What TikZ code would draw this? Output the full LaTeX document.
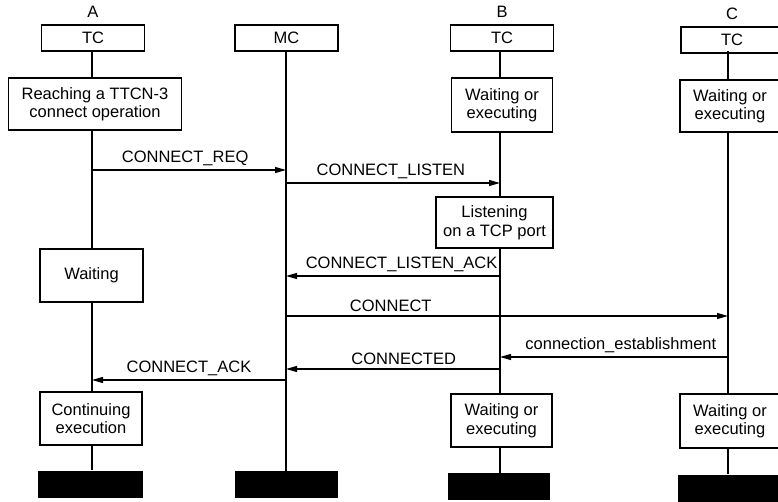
\documentclass[tikz,border=0pt]{standalone}
\usepackage{fontspec}
\setmainfont{Liberation Sans}
\usetikzlibrary{arrows.meta,backgrounds,positioning}

\tikzset{
    every node/.style={font=\fontsize{16.5}{18.5}\selectfont},
    hdr/.style={draw, line width=1.2pt, minimum width=103pt, minimum height=26pt, inner sep=0pt},
    act/.style={draw, fill=white, line width=1.2pt, align=center, inner sep=0pt},
    stop/.style={fill=black, inner sep=0pt, minimum height=27pt},
    msg/.style={line width=1.2pt, -{Triangle[length=11pt,width=6pt]}}
}

\begin{document}
\begin{tikzpicture}[x=1pt, y=-1pt]
                        \useasboundingbox (0,0) rectangle (778,502);

                        % instance heads
                        \node[hdr] (hA) at (93,38) {TC};
                        \node[hdr] (hM) at (286.5,38) {MC};
                        \node[hdr] (hB) at (502,38) {TC};
                        \node[hdr, minimum width=102pt] (hC) at (732,40) {TC};

                        \node[above=3pt of hA] (lA) {A};
                        \node[above=3pt of hB] (lB) {B};
                        \node[above=3pt of hC] (lC) {C};

                        % states
                        \node[act, minimum width=173pt, minimum height=52pt] (rA) at (95,104) {Reaching a TTCN-3\\connect operation};
                        \node[act, minimum width=101pt, minimum height=54pt] (b1) at (502,105) {Waiting or\\executing};
                        \node[act, minimum width=100pt, minimum height=52pt] (c1) at (730,106) {Waiting or\\executing};
                        \node[act, minimum width=117pt, minimum height=51pt] (lsB) at (494.5,222.5) {Listening\\on a TCP port};
                        \node[act, minimum width=103pt, minimum height=53pt] (wA) at (91.5,275.5) {Waiting};
                        \node[act, minimum width=102pt, minimum height=53pt] (cA) at (91,418.5) {Continuing\\execution};
                        \node[act, minimum width=101pt, minimum height=53pt] (b2) at (501.5,420.5) {Waiting or\\executing};
                        \node[act, minimum width=100pt, minimum height=54pt] (c2) at (730,421) {Waiting or\\executing};

                        % stop blocks
                        \node[stop, minimum width=105pt] (eA) at (90.5,484) {};
                        \node[stop, minimum width=103pt] (eM) at (286.5,484.5) {};
                        \node[stop, minimum width=102pt] (eB) at (499,486.5) {};
                        \node[stop, minimum width=102pt] (eC) at (729,488) {};

                        \begin{pgfonlayer}{background}
                        \foreach \l/\x in {A/92,M/286,B/500,C/728}{
                            \coordinate (t\l) at (\x,51);
                            \coordinate (s\l) at (t\l |- e\l.north);
                            \draw[line width=1.2pt] (t\l) -- (s\l);
                        }
                        \end{pgfonlayer}

                        \foreach \n/\f/\t/\y/\p/\txt in {%
                            req/A/M/170/0.48/CONNECT\_REQ,
                            lis/M/B/183/0.49/CONNECT\_LISTEN,
                            lak/B/M/276/0.46/CONNECT\_LISTEN\_ACK,
                            con/M/C/316/0.237/CONNECT,
                            est/C/B/357/0.47/connection\_establishment,
                            cok/B/M/369/0.45/CONNECTED,
                            ack/M/A/380/0.50/CONNECT\_ACK%
                            }{
                            \coordinate (\n1) at (t\f |- 0,\y);
                            \coordinate (\n2) at (t\t |- 0,\y);
                            \draw[msg] (\n1) -- node[pos=\p, above] {\txt} (\n2);
                        }

                    \end{tikzpicture}
\end{document}
